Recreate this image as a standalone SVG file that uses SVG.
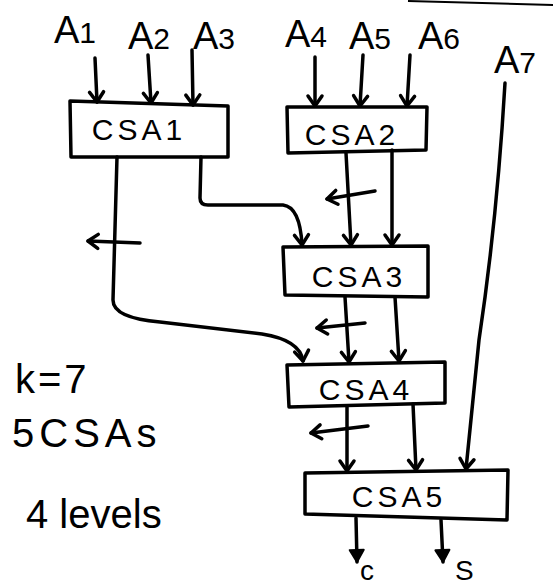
<svg xmlns="http://www.w3.org/2000/svg" width="553" height="588" viewBox="0 0 553 588">
<style>
.box{fill:none;stroke:#000;stroke-width:3.5;stroke-linejoin:round}
.w{fill:none;stroke:#000;stroke-width:3.5;stroke-linecap:round;stroke-linejoin:round}
.arr{marker-end:url(#chev)}
.fil{marker-end:url(#tri)}
.t{font-family:"Liberation Sans","DejaVu Sans",sans-serif;fill:#000}
.lab{font-size:38px}
.sub{font-size:30px}
.csa{font-size:30px;letter-spacing:4px;text-anchor:middle}
.note{font-size:40px}
</style>
<defs>
<marker id="chev" markerUnits="userSpaceOnUse" markerWidth="24" markerHeight="24" viewBox="-12 -12 24 24" refX="0" refY="0" orient="auto" overflow="visible">
<path d="M-10,-7 L0,0 L-10,7" fill="none" stroke="#000" stroke-width="3.5" stroke-linecap="round" stroke-linejoin="round"/>
</marker>
<marker id="tri" markerUnits="userSpaceOnUse" markerWidth="24" markerHeight="24" viewBox="-14 -12 24 24" refX="0" refY="0" orient="auto" overflow="visible">
<path d="M-12,-7 L0,0 L-12,7 Z" fill="#000" stroke="#000" stroke-width="2" stroke-linejoin="round"/>
</marker>
</defs>
<rect width="553" height="588" fill="#fff"/>
<path d="M408,1 L553,5" fill="none" stroke="#000" stroke-width="2"/>

<g id="inputs">
<g id="in-a1"><text class="t lab" x="54" y="43">A<tspan class="sub">1</tspan></text></g>
<g id="in-a2"><text class="t lab" x="128" y="49">A<tspan class="sub">2</tspan></text></g>
<g id="in-a3"><text class="t lab" x="193" y="49">A<tspan class="sub">3</tspan></text></g>
<g id="in-a4"><text class="t lab" x="285" y="47">A<tspan class="sub">4</tspan></text></g>
<g id="in-a5"><text class="t lab" x="349" y="49">A<tspan class="sub">5</tspan></text></g>
<g id="in-a6"><text class="t lab" x="418" y="49">A<tspan class="sub">6</tspan></text></g>
<g id="in-a7"><text class="t lab" x="494" y="73">A<tspan class="sub">7</tspan></text></g>
</g>

<g id="csa1"><path class="box" d="M70,101 L228,106 L228,157 L71,157 Z"/><text class="t csa" x="139" y="140">CSA1</text></g>
<g id="csa2"><path class="box" d="M287,107 L427,107 L426,150 L288,153 Z"/><text class="t csa" x="352" y="145">CSA2</text></g>
<g id="csa3"><path class="box" d="M283,247 L428,246 L428,297 L285,295 Z"/><text class="t csa" x="359" y="287">CSA3</text></g>
<g id="csa4"><path class="box" d="M287,365 L445,362 L445,403 L289,407 Z"/><text class="t csa" x="366" y="400">CSA4</text></g>
<g id="csa5"><path class="box" d="M305,473 L508,470 L507,520 L305,514 Z"/><text class="t csa" x="399" y="507">CSA5</text></g>

<g id="outputs">
<g id="out-c"><text class="t" x="360" y="580" font-size="28">c</text></g>
<g id="out-s"><text class="t" x="455" y="580" font-size="28">S</text></g>
</g>

<g id="notes">
<text class="t note" x="15" y="393" font-size="44" letter-spacing="3">k=7</text>
<text class="t note" x="12" y="447" letter-spacing="5">5CSAs</text>
<text class="t note" x="26" y="528" font-size="46">4 levels</text>
</g>

<g id="connectors">
<path class="w arr" d="M95,58 L97,102"/>
<path class="w arr" d="M148,55 L151,103"/>
<path class="w arr" d="M192,50 L193,105"/>
<path class="w arr" d="M315,57 L315,106"/>
<path class="w arr" d="M363,55 L360,106"/>
<path class="w arr" d="M410,55 L407,106"/>

<path class="w arr" d="M201,157 L200,198 Q200,205 208,205 L283,205 Q300,207 302,245"/>
<path class="w arr" d="M117,157 L113,300 Q113,318 160,322 L262,334 Q300,340 303,361"/>
<path class="w arr" d="M140,243 L88,241"/>

<path class="w arr" d="M346,153 L351,245"/>
<path class="w arr" d="M392,150 L392,245"/>
<path class="w arr" d="M375,191 L327,199"/>

<path class="w arr" d="M345,297 L349,362"/>
<path class="w arr" d="M395,297 L399,361"/>
<path class="w arr" d="M365,323 L317,328"/>

<path class="w arr" d="M347,406 L347,471"/>
<path class="w arr" d="M413,404 L416,470"/>
<path class="w arr" d="M368,426 L311,433"/>

<path class="w arr" d="M505,83 Q497,220 479,340 L466,469"/>

<path class="w fil" d="M356,518 L357,562"/>
<path class="w fil" d="M441,520 L443,562"/>
</g>
</svg>
